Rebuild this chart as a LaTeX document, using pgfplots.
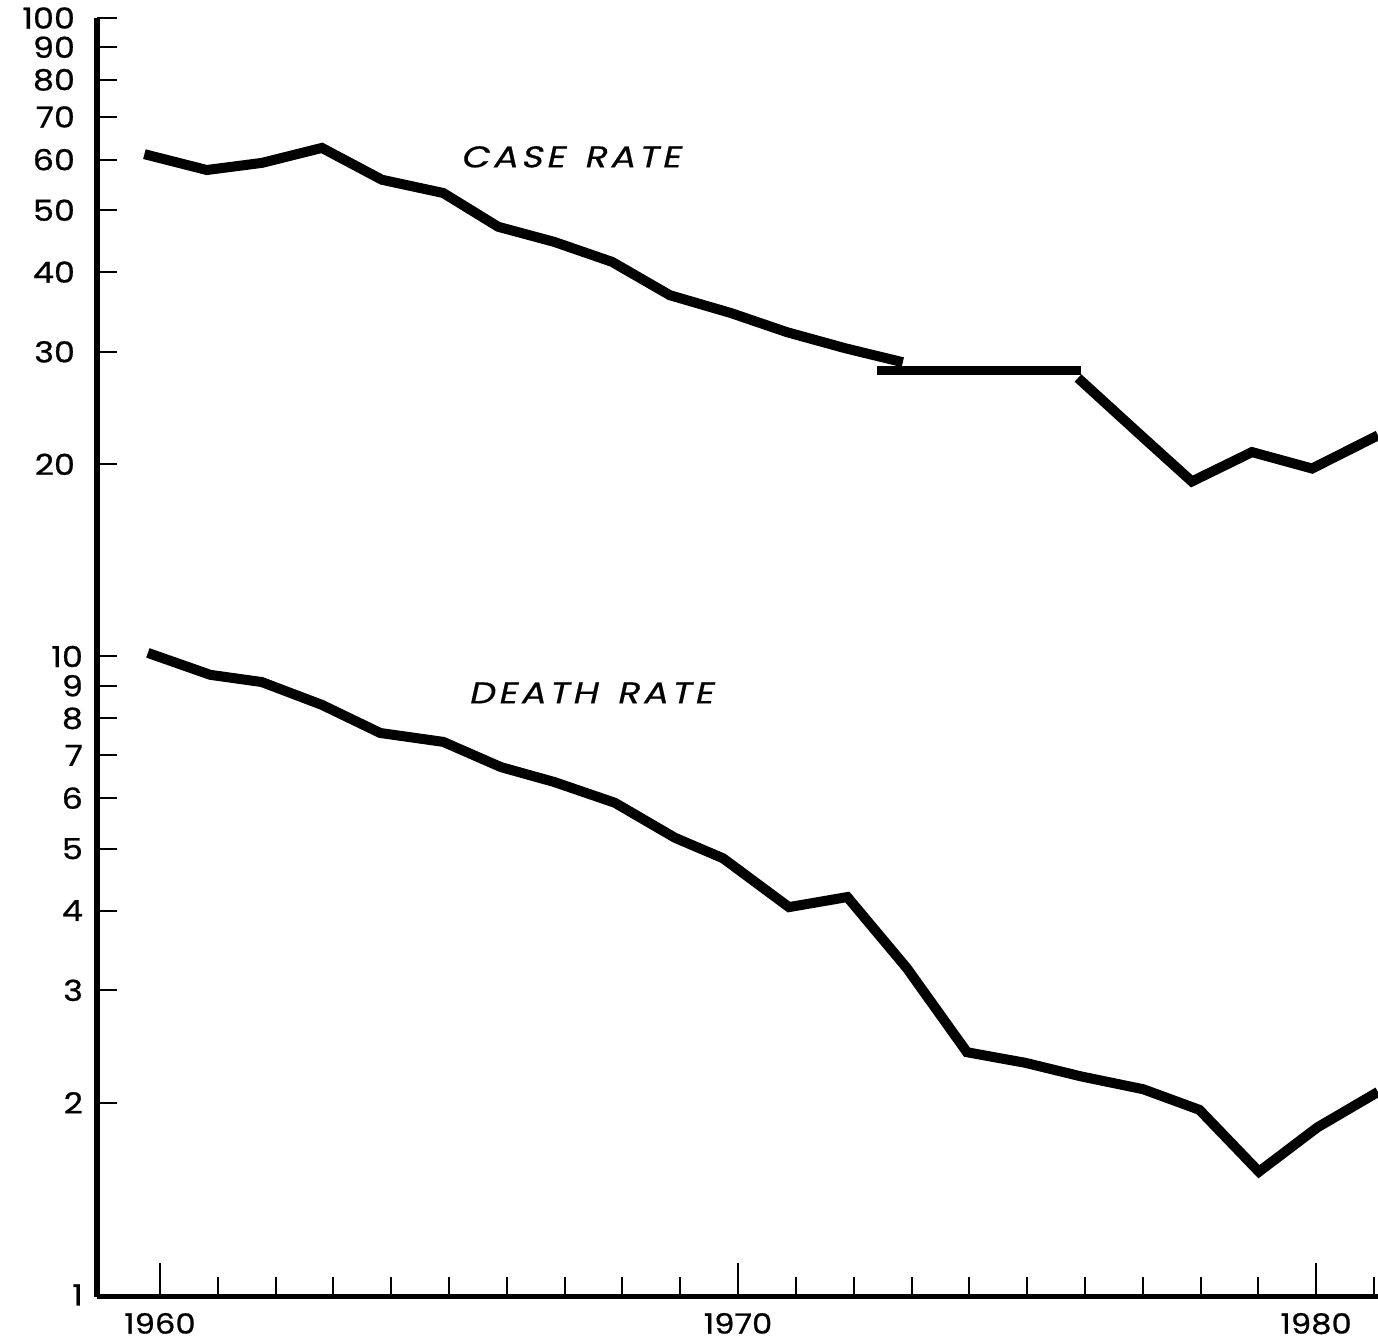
\documentclass[border=0pt]{standalone}
\usepackage{fontspec}
\setmainfont{Poppins}
\newfontfamily\tickfont[FakeStretch=1.15,FakeBold=0.8]{Poppins}
\newfontfamily\labfont[FakeSlant=0.22,FakeStretch=1.22,FakeBold=0.6,LetterSpace=12]{Poppins}
\usepackage{pgfplots}
\pgfplotsset{compat=1.18}
\begin{document}
\begin{tikzpicture}
\begin{axis}[
  at={(0pt,0pt)}, anchor=south west,
  scale only axis, width=640.5pt, height=639.5pt,
  xmin=1958.91, xmax=1981.07,
  ymode=log, ymin=0.9928, ymax=100,
  axis x line=bottom, axis y line=left,
  axis line style={-},
  x axis line style={line width=2.5pt},
  y axis line style={line width=3pt},
  tick align=inside,
  major tick length=10pt,
  every tick/.style={black, line width=1pt},
  xtick={1961,1962,1963,1964,1965,1966,1967,1968,1969,1971,1972,1973,1974,1975,1976,1977,1978,1979,1981},
  xticklabels={},
  extra x ticks={1960,1970,1980},
  extra x tick labels={1960,1970,1980},
  extra x tick style={major tick length=17pt},
  xticklabel style={font=\tickfont\fontsize{14}{14}\selectfont, yshift=-4.5pt},
  ytick={1,2,3,4,5,6,7,8,9,10},
  yticklabels={1,2,3,4,5,6,7,8,9,10},
  extra y ticks={20,30,40,50,60,70,80,90,100},
  extra y tick labels={20,30,40,50,60,70,80,90,100},
  extra y tick style={yticklabel style={xshift=-4pt}},
  yticklabel style={font=\tickfont\fontsize{14.5}{14.5}\selectfont, xshift=-3.5pt},
  /pgf/number format/assume math mode=true,
]
% case rate
\addplot[black, line width=5pt] coordinates {
 (1959.73,61.2) (1960.81,57.8) (1961.76,59.3) (1962.80,62.6) (1963.84,55.8)
 (1964.90,53.2) (1965.85,47.1) (1966.82,44.6) (1967.82,41.5) (1968.82,36.8)
 (1969.88,34.5) (1970.85,32.2) (1971.85,30.4) (1972.85,28.9)};
\addplot[black, line width=4.5pt] coordinates {(1972.40,28.05) (1975.93,28.05)};
\addplot[black, line width=5pt] coordinates {
 (1975.88,27.3) (1976.92,22.4) (1977.85,18.8) (1978.89,20.9) (1979.93,19.7) (1981.07,22.2)};
% death rate
\addplot[black, line width=5pt] coordinates {
 (1959.79,10.13) (1960.87,9.36) (1961.76,9.12) (1962.80,8.40) (1963.81,7.59)
 (1964.90,7.35) (1965.90,6.71) (1966.82,6.36) (1967.87,5.90) (1968.91,5.20)
 (1969.74,4.83) (1970.88,4.05) (1971.89,4.20) (1972.92,3.25) (1973.96,2.40)
 (1974.97,2.31) (1975.93,2.20) (1977.01,2.10) (1977.98,1.95) (1979.01,1.56)
 (1980.02,1.83) (1981.07,2.08)};
\node[font=\labfont\fontsize{15}{15}\selectfont] at (axis cs:1967.10,60.6) {CASE\hspace{3pt} RATE};
\node[font=\labfont\fontsize{15}{15}\selectfont] at (axis cs:1967.45,8.77) {DEATH\hspace{3pt} RATE};
\end{axis}
\pgfresetboundingbox
\path (-48.5pt,-23pt) rectangle (640.5pt,648.5pt);
\end{tikzpicture}
\end{document}
